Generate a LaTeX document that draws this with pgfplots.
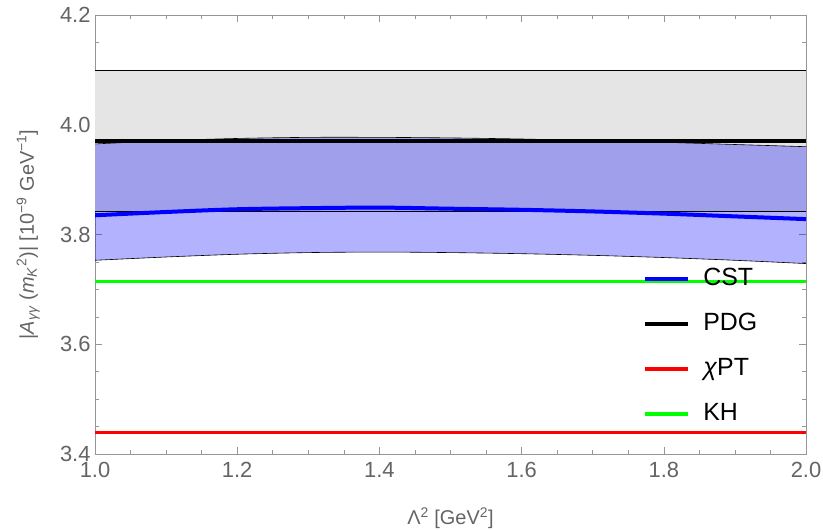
\documentclass[border=0pt]{standalone}
\usepackage{pgfplots}
\pgfplotsset{compat=1.18}
\usepgfplotslibrary{fillbetween}
\usepackage{fontspec}
\setmainfont{Liberation Sans}
\definecolor{tickgray}{RGB}{100,100,100}
\definecolor{framegray}{RGB}{150,150,150}
\definecolor{bandgray}{RGB}{229,229,229}
\definecolor{kh}{RGB}{0,255,0}
\definecolor{chpt}{RGB}{255,0,0}
\definecolor{cst}{RGB}{0,0,255}

\pgfplotstableread{
x top center bottom
1.0 3.965 3.835 3.753
1.1 3.971 3.841 3.759
1.2 3.975 3.846 3.764
1.3 3.977 3.848 3.767
1.4 3.977 3.849 3.768
1.5 3.976 3.847 3.767
1.6 3.974 3.845 3.765
1.7 3.971 3.842 3.762
1.8 3.968 3.838 3.758
1.9 3.964 3.833 3.753
2.0 3.960 3.828 3.747
}\cstdata

\begin{document}
\begin{tikzpicture}
\begin{axis}[
  scale only axis, width=711bp, height=439bp,
  xmin=1, xmax=2, ymin=3.4, ymax=4.2,
  xtick={1.0,1.2,1.4,1.6,1.8,2.0},
  ytick={3.4,3.6,3.8,4.0,4.2},
  minor tick num=3,
  tick align=inside,
  major tick length=7bp, minor tick length=4bp,
  axis line style={framegray, line width=0.8bp},
  tick style={framegray, line width=0.6bp},
  ticklabel style={font=\fontsize{22}{26}\selectfont, text=tickgray},
  xticklabel style={yshift=-5bp},
  yticklabel style={xshift=-1bp},
  /pgf/number format/assume math mode=true,
  /pgf/number format/.cd, fixed, fixed zerofill, precision=1, /pgfplots/.cd,
  xlabel={Λ\textsuperscript{2} [GeV\textsuperscript{2}]},
  xlabel style={at={(axis description cs:0.5,-0.146)}, anchor=center, font=\fontsize{20}{24}\selectfont, text=tickgray},
  ylabel={|\textit{A}\textsubscript{\textit{γγ}} (\textit{m}\textsubscript{\textit{K}}\textsuperscript{2})| [10\textsuperscript{−9} GeV\textsuperscript{−1}]},
  ylabel style={at={(axis description cs:-0.094,0.5)}, anchor=center, rotate=0, font=\fontsize{20}{24}\selectfont, text=tickgray},
  legend style={at={(axis description cs:0.766,0.432)}, anchor=north west, draw=none, fill=none,
    font=\fontsize{25}{30}\selectfont, row sep=20bp, column sep=13bp,
    nodes={inner sep=1bp, text height=18bp, text depth=5bp}},
  legend cell align=left,
  legend image code/.code={\draw[#1, line width=3.5bp] (0bp,0bp) -- (43bp,0bp);},
]
% PDG band
\addplot[name path=pt, draw=black, line width=0.6bp, forget plot] coordinates {(1,4.10) (2,4.10)};
\addplot[name path=pb, draw=black, line width=0.6bp, forget plot] coordinates {(1,3.843) (2,3.843)};
\addplot[bandgray, forget plot] fill between[of=pt and pb];
% CST band
\addplot[name path=ct, draw=none, forget plot] table[x=x, y=top] {\cstdata};
\addplot[name path=cb, draw=none, forget plot] table[x=x, y=bottom] {\cstdata};
\addplot[cst, fill opacity=0.3, forget plot] fill between[of=ct and cb];
\addplot[black, line width=0.6bp, smooth, forget plot] table[x=x, y=top] {\cstdata};
\addplot[black, line width=0.6bp, smooth, forget plot] table[x=x, y=bottom] {\cstdata};
\addplot[black, line width=0.6bp, forget plot] coordinates {(1,4.10) (2,4.10)};
\addplot[black, line width=0.6bp, forget plot] coordinates {(1,3.843) (2,3.843)};
% lines
\addplot[cst, line width=4bp, smooth] table[x=x, y=center] {\cstdata};
\addlegendentry{CST}
\addplot[black, line width=4bp] coordinates {(1,3.971) (2,3.971)};
\addlegendentry{PDG}
\addplot[chpt, line width=3bp] coordinates {(1,3.44) (2,3.44)};
\addlegendentry{\textit{χ}PT}
\addplot[kh, line width=3bp] coordinates {(1,3.715) (2,3.715)};
\addlegendentry{KH}
\end{axis}
\pgfresetboundingbox
\path ([shift={(-95bp,-76bp)}]current axis.south west) rectangle ([shift={(17bp,15bp)}]current axis.north east);
\end{tikzpicture}
\end{document}
